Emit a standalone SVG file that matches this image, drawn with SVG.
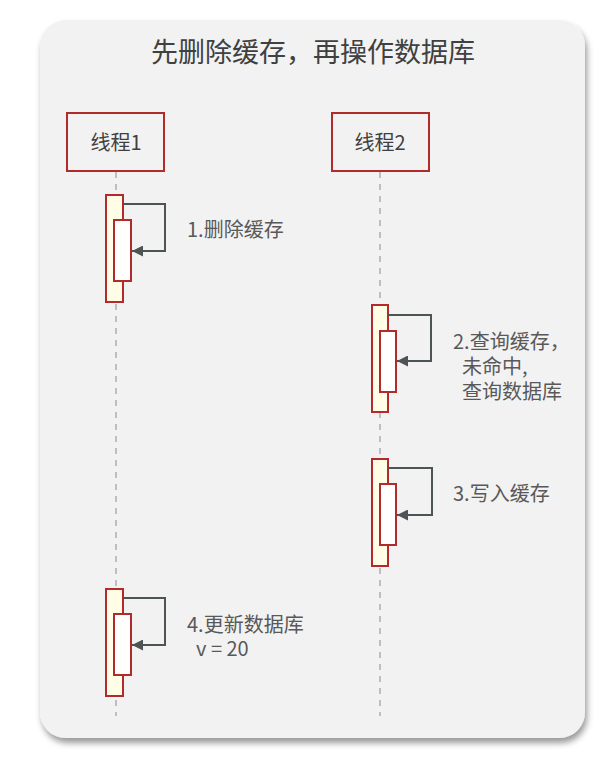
<svg xmlns="http://www.w3.org/2000/svg" width="608" height="759" viewBox="0 0 608 759">
<defs>
<filter id="sh" x="-10%" y="-10%" width="120%" height="120%">
<feDropShadow dx="2" dy="5" stdDeviation="3" flood-color="#000" flood-opacity="0.4"/>
</filter>
<marker id="ah" viewBox="0 0 10 10" refX="10" refY="5" markerWidth="11" markerHeight="11" markerUnits="userSpaceOnUse" orient="auto">
<path d="M0,0 L10,5 L0,10 Z" fill="#4d5456"/>
</marker>
</defs>
<style>
text{font-family:"Noto Sans CJK SC","Liberation Sans",sans-serif}
.title{font-size:27px;fill:#404040}
.lane{fill:#f2f2f2;stroke:#b22a2a;stroke-width:2}
.lanet{font-size:20px;fill:#404040}
.life{stroke:#bfbfbf;stroke-width:2;stroke-dasharray:6 6;fill:none}
.act{fill:#fffde6;stroke:#b22a2a;stroke-width:2}
.act2{fill:#ffffff;stroke:#b22a2a;stroke-width:2}
.msg{fill:none;stroke:#4d5456;stroke-width:2}
.lbl{font-size:20px;fill:#595959}
</style>
<rect x="40" y="20" width="545" height="718" rx="26" ry="26" fill="#f2f2f2" filter="url(#sh)"/>
<text class="title" x="313" y="62" text-anchor="middle">先删除缓存，再操作数据库</text>
<g id="connectors">
<line class="life" x1="116" y1="172" x2="116" y2="716"/>
<line class="life" x1="380" y1="172" x2="380" y2="716"/>
</g>
<g id="thread1">
<rect class="lane" x="67" y="113" width="97" height="58"/>
<text class="lanet" x="116" y="150" text-anchor="middle">线程1</text>
</g>
<g id="thread2">
<rect class="lane" x="332" y="113" width="97" height="58"/>
<text class="lanet" x="380" y="150" text-anchor="middle">线程2</text>
</g>
<g id="step1">
<rect class="act" x="106" y="195" width="17" height="107"/>
<rect class="act2" x="114" y="220" width="17" height="61"/>
<path class="msg" d="M123,204 H165 V251 H132" marker-end="url(#ah)"/>
<text class="lbl" x="187" y="237">1.删除缓存</text>
</g>
<g id="step2">
<rect class="act" x="372" y="305" width="16" height="107"/>
<rect class="act2" x="380" y="331" width="16" height="61"/>
<path class="msg" d="M388,315 H431 V361 H397" marker-end="url(#ah)"/>
<text class="lbl" x="453" y="349">2.查询缓存，</text>
<text class="lbl" x="462" y="374">未命中,</text>
<text class="lbl" x="462" y="399">查询数据库</text>
</g>
<g id="step3">
<rect class="act" x="372" y="459" width="16" height="107"/>
<rect class="act2" x="380" y="484" width="16" height="61"/>
<path class="msg" d="M388,468 H432 V515 H397" marker-end="url(#ah)"/>
<text class="lbl" x="453" y="501">3.写入缓存</text>
</g>
<g id="step4">
<rect class="act" x="106" y="589" width="17" height="107"/>
<rect class="act2" x="114" y="614" width="17" height="61"/>
<path class="msg" d="M123,598 H165 V645 H132" marker-end="url(#ah)"/>
<text class="lbl" x="187" y="632">4.更新数据库</text>
<text class="lbl" x="196" y="656">v = 20</text>
</g>
</svg>
